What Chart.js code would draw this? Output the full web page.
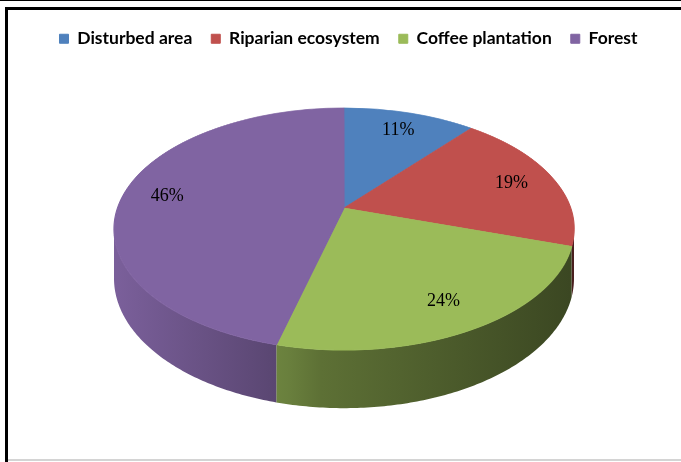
<!DOCTYPE html>
<html>
<head>
<meta charset="utf-8">
<script src="https://cdn.jsdelivr.net/npm/chart.js@4.4.0/dist/chart.umd.min.js"></script>
<style>
  html, body { margin: 0; padding: 0; background: #fff; }
  #wrap { position: relative; width: 681px; height: 462px; overflow: hidden; }
  #wrap canvas { position: absolute; left: 0; top: 0; }
  .rule { position: absolute; }
</style>
</head>
<body>
<div id="wrap">
  <canvas id="landuse" width="681" height="462"></canvas>
  <div class="rule" style="left:0;top:0;width:681px;height:1px;background:#000"></div>
  <div class="rule" style="left:5px;top:7px;width:676px;height:3px;background:#000"></div>
  <div class="rule" style="left:5px;top:7px;width:3px;height:455px;background:#000"></div>
  <div class="rule" style="left:8px;top:459px;width:673px;height:2px;background:#d4d4d4"></div>
</div>
<script>
// land use shares (%)
const categories = ["Disturbed area", "Riparian ecosystem", "Coffee plantation", "Forest"];
const shares = [11, 19, 24, 46];
const sliceColors = ["#4F81BD", "#C0504D", "#9BBB59", "#8064A2"];

// how the flat pie is seen in perspective (screen pixels)
const VIEW = {
  cx: 344,
  cy: 208,
  rx: 226.5,
  ry: 117.4,
  persp: 0.1736,
  depth: 48,
  labelR: 0.8,
};

const project = function (u, v) {
  const w = 1 - VIEW.persp * v;
  return { x: VIEW.cx + (VIEW.rx * u) / w, y: VIEW.cy + (VIEW.ry * v) / w, w: w };
};

const unprojectY = function (y) {
  const t = (y - VIEW.cy) / VIEW.ry;
  return t / (1 + VIEW.persp * t);
};

const shade = function (hex, f) {
  const n = parseInt(hex.slice(1), 16);
  const r = Math.round(((n >> 16) & 255) * f);
  const g = Math.round(((n >> 8) & 255) * f);
  const b = Math.round((n & 255) * f);
  return `rgb(${r},${g},${b})`;
};

const pie3d = {
  id: "pie3d",
  beforeDatasetsDraw(chart) {
    const ctx = chart.ctx;
    const arcs = chart.getDatasetMeta(0).data;
    if (!arcs.length) return;
    const ox = arcs[0].x;
    const oy = arcs[0].y;
    const R = arcs[0].outerRadius;

    // side wall, only the part facing us
    const lo = Math.asin(VIEW.persp);
    const hi = Math.PI - lo;
    const left = VIEW.cx - VIEW.rx;
    const right = VIEW.cx + VIEW.rx;
    arcs.forEach((arc) => {
      const a0 = Math.max(arc.startAngle, lo);
      const a1 = Math.min(arc.endAngle, hi);
      if (a1 <= a0) return;
      const col = arc.options.backgroundColor;
      const grad = ctx.createLinearGradient(left, 0, right, 0);
      grad.addColorStop(0, shade(col, 0.95));
      grad.addColorStop(0.38, shade(col, 0.68));
      grad.addColorStop(0.45, shade(col, 0.6));
      grad.addColorStop(1, shade(col, 0.38));
      const n = Math.max(8, Math.ceil((a1 - a0) * 80));
      ctx.beginPath();
      for (let k = 0; k <= n; k++) {
        const t = a0 + ((a1 - a0) * k) / n;
        const p = project(Math.cos(t), Math.sin(t));
        if (k === 0) ctx.moveTo(p.x, p.y);
        else ctx.lineTo(p.x, p.y);
      }
      for (let k = n; k >= 0; k--) {
        const t = a0 + ((a1 - a0) * k) / n;
        const p = project(Math.cos(t), Math.sin(t));
        ctx.lineTo(p.x, p.y + VIEW.depth / p.w);
      }
      ctx.closePath();
      ctx.fillStyle = grad;
      ctx.fill();
    });

    // top face: draw the library's arcs one screen row at a time
    const top = Math.floor(project(0, -1).y) - 1;
    const bottom = Math.ceil(project(0, 1).y) + 1;
    for (let y = top; y < bottom; y++) {
      const v0 = unprojectY(y);
      const v1 = unprojectY(y + 1);
      const w = 1 - (VIEW.persp * (v0 + v1)) / 2;
      const sx = VIEW.rx / (w * R);
      const sy = 1 / ((v1 - v0) * R);
      const py0 = oy + v0 * R;
      ctx.save();
      ctx.beginPath();
      ctx.rect(0, y, chart.width, 1);
      ctx.clip();
      ctx.transform(sx, 0, 0, sy, VIEW.cx - sx * ox, y - sy * py0);
      arcs.forEach((a) => a.draw(ctx));
      ctx.restore();
    }
    return false;
  },
  afterDraw(chart) {
    const ctx = chart.ctx;
    const arcs = chart.getDatasetMeta(0).data;
    const total = shares.reduce((acc, cur) => acc + cur, 0);
    ctx.save();
    ctx.font = '18px "Liberation Serif"';
    ctx.fillStyle = "#000";
    ctx.textAlign = "center";
    ctx.textBaseline = "middle";
    arcs.forEach((arc, i) => {
      const mid = (arc.startAngle + arc.endAngle) / 2;
      const p = project(VIEW.labelR * Math.cos(mid), VIEW.labelR * Math.sin(mid));
      ctx.fillText(Math.round((shares[i] / total) * 100) + "%", p.x, p.y);
    });
    ctx.restore();
  },
};

let landChart = new Chart(document.getElementById("landuse"), {
  type: "pie",
  plugins: [pie3d],
  data: {
    labels: categories,
    datasets: [
      {
        data: shares,
        backgroundColor: sliceColors,
        borderColor: sliceColors,
        borderWidth: 1,
      },
    ],
  },
  options: {
    responsive: false,
    animation: false,
    events: [],
    layout: { padding: { top: 11, left: 16, right: 0, bottom: 10 } },
    plugins: {
      tooltip: { enabled: false },
      legend: {
        position: "top",
        labels: {
          boxWidth: 9,
          boxHeight: 9,
          padding: 19,
          color: "#000",
          font: { family: "Lato", size: 17.5, weight: "bold" },
        },
      },
    },
  },
});
</script>
</body>
</html>
